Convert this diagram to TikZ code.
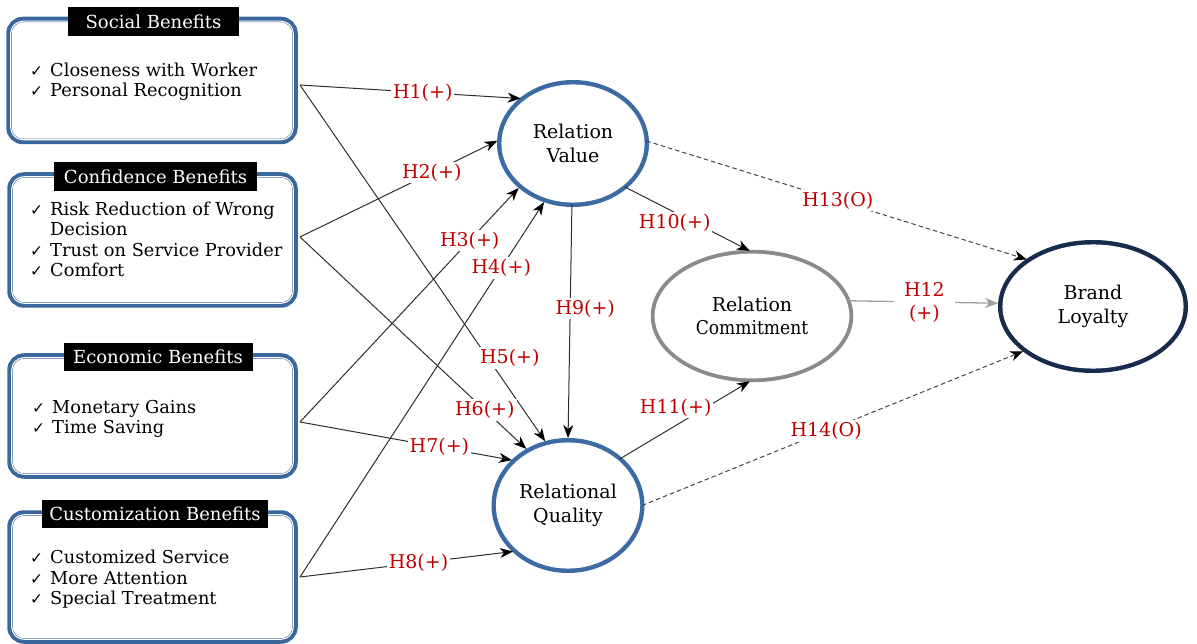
\documentclass[tikz,border=0pt]{standalone}
\usepackage{fontspec}
\setmainfont{DejaVu Serif}
\newfontfamily\ckfont{DejaVu Sans}
\usepackage{graphicx}
\usetikzlibrary{arrows.meta,shapes.geometric}
\definecolor{boxblue}{HTML}{3A679C}
\definecolor{ovblue}{HTML}{3C6AA3}
\definecolor{cmgray}{HTML}{8A8A8A}
\definecolor{navy}{HTML}{172B4C}
\definecolor{hred}{HTML}{C00000}
\definecolor{linegray}{HTML}{2E2E2E}
\definecolor{dashgray}{HTML}{444444}
\newcommand{\ck}{{\ckfont\fontsize{15.5}{15.5}\selectfont ✓}}
\tikzset{
  bbox/.style={draw=boxblue, line width=5.5pt, rounded corners=14pt, outer sep=0pt, inner sep=0pt},
  binner/.style={draw=white, line width=1.1pt, rounded corners=12.4pt},
  ttl/.style={fill=black, text=white, font=\fontsize{18}{20}\selectfont, inner sep=0pt, outer sep=0pt},
  items/.style={inner sep=0pt, font=\fontsize{17.8}{20.5}\selectfont, anchor=base west},
  oval/.style={ellipse, draw=ovblue, line width=5pt, outer sep=0pt, inner sep=0pt, fill=white,
    align=center, font=\fontsize{19}{23.5}\selectfont},
  ovinner/.style={draw=white, line width=1.1pt},
  conn/.style={draw=linegray, line width=1pt, shorten >=2.5pt,
    -{Stealth[length=13pt,width=10pt,inset=4pt,color=black]}},
  gconn/.style={draw=gray!75, line width=1.3pt, shorten >=2.5pt,
    -{Stealth[length=13pt,width=10pt,inset=4pt,color=gray!75]}},
  dconn/.style={draw=dashgray, line width=1pt, dash pattern=on 4.5pt off 3pt, shorten >=2.5pt,
    -{Stealth[length=13pt,width=10pt,inset=4pt,color=black]}},
  lbl/.style={fill=white, text=hred, font=\fontsize{19}{23}\selectfont, inner sep=2pt, align=center}
}
\begin{document}
\begin{tikzpicture}[x=1pt,y=-1pt]
\useasboundingbox (0,0) rectangle (1197,644);

% ---- benefit boxes ----
\node[bbox, minimum width=286pt, minimum height=122pt] (sb) at (152,80.5) {};
\node[bbox, minimum width=285pt, minimum height=130pt] (cb) at (152.5,240) {};
\node[bbox, minimum width=285pt, minimum height=120pt] (eb) at (152.5,416) {};
\node[bbox, minimum width=285pt, minimum height=128pt] (ub) at (152.5,577) {};
\foreach \b in {sb,cb,eb,ub}{
  \draw[binner] ([xshift=1.7pt,yshift=-1.7pt]\b.north west) rectangle ([xshift=-1.7pt,yshift=1.7pt]\b.south east);
}

\node[ttl, minimum width=171pt, minimum height=29pt] (st) at (153.5,22) {Social Benefits};
\node[ttl, minimum width=203pt, minimum height=29pt] (ct) at (155.5,177) {Confidence Benefits};
\node[ttl, minimum width=189pt, minimum height=28pt] (et) at (158,357) {Economic Benefits};
\node[ttl, minimum width=226pt, minimum height=28pt] (ut) at (155,514) {Customization Benefits};

\node[items] (si) at (30,76.5) {\begin{tabular}[t]{@{}l@{\hspace{7pt}}l@{}}\ck & Closeness with Worker\\ \ck & Personal Recognition\end{tabular}};
\node[items] (ci) at (30,215.5) {\begin{tabular}[t]{@{}l@{\hspace{7pt}}l@{}}\ck & Risk Reduction of Wrong\\ & Decision\\ \ck & Trust on Service Provider\\ \ck & Comfort\end{tabular}};
\node[items] (ei) at (32,413.5) {\begin{tabular}[t]{@{}l@{\hspace{7pt}}l@{}}\ck & Monetary Gains\\ \ck & Time Saving\end{tabular}};
\node[items] (ui) at (30,563.5) {\begin{tabular}[t]{@{}l@{\hspace{7pt}}l@{}}\ck & Customized Service\\ \ck & More Attention\\ \ck & Special Treatment\end{tabular}};

% ---- ovals ----
\node[oval, minimum width=147pt, minimum height=122pt] (rv) at (573,143.5) {Relation\\Value};
\draw[ovinner] (rv.center) ellipse (71pt and 58.5pt);
\node[oval, minimum width=148pt, minimum height=130pt] (rq) at (568,505.5) {Relational\\Quality};
\draw[ovinner] (rq.center) ellipse (71.5pt and 62.5pt);
\node[oval, draw=cmgray, line width=4.5pt, minimum width=198pt, minimum height=128pt] (rc) at (752,316) {Relation\\\scalebox{0.9}[1]{Commitment}};
\draw[ovinner] (rc.center) ellipse (96.8pt and 61.8pt);
\node[oval, draw=navy, line width=5pt, minimum width=185pt, minimum height=128pt] (bl) at (1093,306.5) {Brand\\Loyalty};
\draw[ovinner] (bl.center) ellipse (90pt and 61.5pt);

% ---- source points ----
\coordinate (s1) at (300,85);
\coordinate (s2) at (300,237);
\coordinate (s3) at (300,422);
\coordinate (s4) at (300,577);

% ---- connectors ----
\draw[conn] (s1) -- node[lbl, pos=.55] (h1) {H1(+)} (rv.138);
\draw[conn] (s2) -- node[lbl, pos=.66] (h2) {H2(+)} (rv.177);
\draw[conn] (s3) -- node[lbl, pos=.77] (h3) {H3(+)} (rv.219);
\draw[conn] (s4) -- node[lbl, pos=.82] (h4) {H4(+)} (rv.244);
\draw[conn] (s1) -- node[lbl, pos=.79, xshift=15pt, yshift=10pt] (h5) {H5(+)} (rq.109);
\draw[conn] (s2) -- node[lbl, pos=.81] (h6) {H6(+)} (rq.126);
\draw[conn] (s3) -- node[lbl, pos=.65] (h7) {H7(+)} (rq.140);
\draw[conn] (s4) -- node[lbl, pos=.55] (h8) {H8(+)} (rq.221);
\draw[conn] (rv.269) -- node[lbl, pos=.44, xshift=15pt] (h9) {H9(+)} (rq.90);
\draw[conn] (rv.320) -- node[lbl, pos=.55, xshift=-20pt] (h10) {H10(+)} (rc.90);
\draw[conn] (rq.42) -- node[lbl, pos=.65, xshift=-30pt] (h11) {H11(+)} (rc.270);
\draw[gconn] (rc.9) -- node[lbl, pos=.5, inner xsep=10pt] (h12) {H12\\(+)} (bl.178);
\draw[dconn] (rv.2) -- node[lbl, pos=.5] (h13) {H13(O)} (bl.144);
\draw[dconn] (rq.0) -- node[lbl, pos=.48] (h14) {H14(O)} (bl.213);
\end{tikzpicture}
\end{document}
